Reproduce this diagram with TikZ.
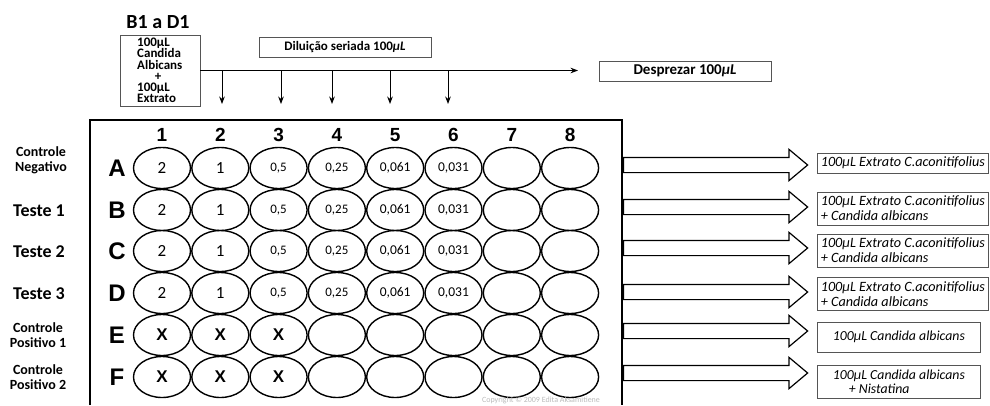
\documentclass[tikz,border=0pt]{standalone}
\usepackage{fontspec}
\setmainfont{Carlito}
\newfontfamily\arialfont{Liberation Sans}
\usetikzlibrary{arrows.meta,positioning,shapes.geometric,shapes.arrows}
\definecolor{boxgray}{HTML}{555555}
\definecolor{copygray}{HTML}{BBBBBB}
\tikzset{
  well/.style={draw, ellipse, line width=1.4pt, minimum width=57pt, minimum height=41pt, inner sep=0pt},
  rowlab/.style={font=\arialfont\bfseries\fontsize{24}{24}\selectfont},
  collab/.style={font=\arialfont\bfseries\fontsize{19}{19}\selectfont},
  sidelab/.style={font=\bfseries\fontsize{14}{15}\selectfont, align=center},
  infobox/.style={draw=boxgray, line width=0.8pt, anchor=west, align=left, inner xsep=2pt, font=\itshape\fontsize{14.2}{15}\selectfont},
  flowarrow/.style={draw, single arrow, single arrow head extend=8pt, single arrow tip angle=80, inner xsep=0pt, inner ysep=7pt, minimum height=184pt, line width=1.2pt, anchor=west}
}

\begin{document}
\begin{tikzpicture}[x=1pt, y=-1pt, >=Stealth, every node/.style={align=center}]
  \useasboundingbox (0,0) rectangle (990,405);

  % top part: mix and serial dilution
  \node[font=\bfseries\fontsize{20}{20}\selectfont] (title) at (158,22) {B1 a D1};
  \node[draw=boxgray, line width=0.8pt, minimum width=80pt, minimum height=71pt, inner sep=0pt] (mix) at (160,70.5) {};
  \node[anchor=west, inner sep=0pt, align=left, font=\bfseries\fontsize{13}{11.3}\selectfont] (mixtext) at (137,70.5)
    {100µL\\Candida\\Albicans\\\makebox[42pt]{+}\\100µL\\Extrato};
  \node[draw=boxgray, line width=0.8pt, minimum width=172pt, minimum height=20pt, font=\bfseries\fontsize{13}{13}\selectfont] (dil) at (345,47) {Diluição seriada 100{\itshape µL}};
  \node[draw=boxgray, line width=0.8pt, minimum width=172pt, minimum height=20pt, font=\bfseries\fontsize{15}{15}\selectfont] (disc) at (685,71) {Desprezar 100{\itshape µL}};
  \coordinate (discTip) at (578,70.5);
  \draw[->, line width=1pt] (mix.east) -- (discTip);
  \foreach \k/\xx in {2/222,3/281,4/332,5/390,6/448}{
    \coordinate (top\k) at (\xx,70.5);
    \coordinate (bot\k) at (\xx,104);
    \draw[->, line width=1pt] (top\k) -- (bot\k);
  }

  % plate
  \draw[line width=2pt] (90,405) -- (90,120) -- (622,120) -- (622,405);
  \foreach \c in {1,...,8}
    \node[collab] (col\c) at ({162+58.3*(\c-1)},135) {\c};
  \foreach \r/\ry in {A/168,B/210,C/251,D/293}{
    \node[rowlab] (row\r) at (117,\ry) {\r};
    \foreach \v/\fs [count=\c] in {2/17,1/17,{0,5}/13,{0,25}/13,{0,061}/13.5,{0,031}/13.5,/13,/13}
      \node[well, font=\fontsize{\fs}{\fs}\selectfont] (\r\c) at ({162+58.3*(\c-1)},\ry) {\v};
  }
  \foreach \r/\ry in {E/335,F/377}{
    \node[rowlab] (row\r) at (117,\ry) {\r};
    \foreach \v [count=\c] in {X,X,X,,,,,}
      \node[well, font=\arialfont\bfseries\fontsize{17}{17}\selectfont] (\r\c) at ({162+58.3*(\c-1)},\ry) {\v};
  }
  \node[text=copygray, font=\fontsize{8}{8}\selectfont] (copy) at (541,400) {Copyright © 2009 Edita Aksamitiene};

  % left labels
  \node[sidelab] (lblA) at (41,160) {Controle\\Negativo};
  \node[sidelab, font=\bfseries\fontsize{18}{18}\selectfont] (lblB) at (39,211) {Teste 1};
  \node[sidelab, font=\bfseries\fontsize{18}{18}\selectfont] (lblC) at (39,252) {Teste 2};
  \node[sidelab, font=\bfseries\fontsize{18}{18}\selectfont] (lblD) at (39,294) {Teste 3};
  \node[sidelab] (lblE) at (38,335) {Controle\\Positivo 1};
  \node[sidelab] (lblF) at (38,377) {Controle\\Positivo 2};

  % right side arrows and boxes
  \foreach \r/\ay in {A/165,B/207,C/248,D/292,E/331,F/373}
    \node[flowarrow] (arr\r) at (623,\ay) {};
  \node[infobox, minimum width=171pt, minimum height=20pt] (resA) at (817,163) {100µL Extrato C.aconitifolius};
  \node[infobox, minimum width=171pt, minimum height=33pt] (resB) at (817,208.5) {100µL Extrato C.aconitifolius\\+ Candida albicans};
  \node[infobox, minimum width=171pt, minimum height=33pt] (resC) at (817,250.5) {100µL Extrato C.aconitifolius\\+ Candida albicans};
  \node[infobox, minimum width=171pt, minimum height=33pt] (resD) at (817,294) {100µL Extrato C.aconitifolius\\+ Candida albicans};
  \node[infobox, minimum width=163pt, minimum height=30pt, font=\itshape\fontsize{13.8}{14}\selectfont] (resE) at (817,337) {100µL Candida albicans};
  \node[infobox, minimum width=163pt, minimum height=33pt, font=\itshape\fontsize{13.8}{14}\selectfont] (resF) at (817,381.5) {100µL Candida albicans\\\hspace*{16pt}+ Nistatina};
\end{tikzpicture}
\end{document}
